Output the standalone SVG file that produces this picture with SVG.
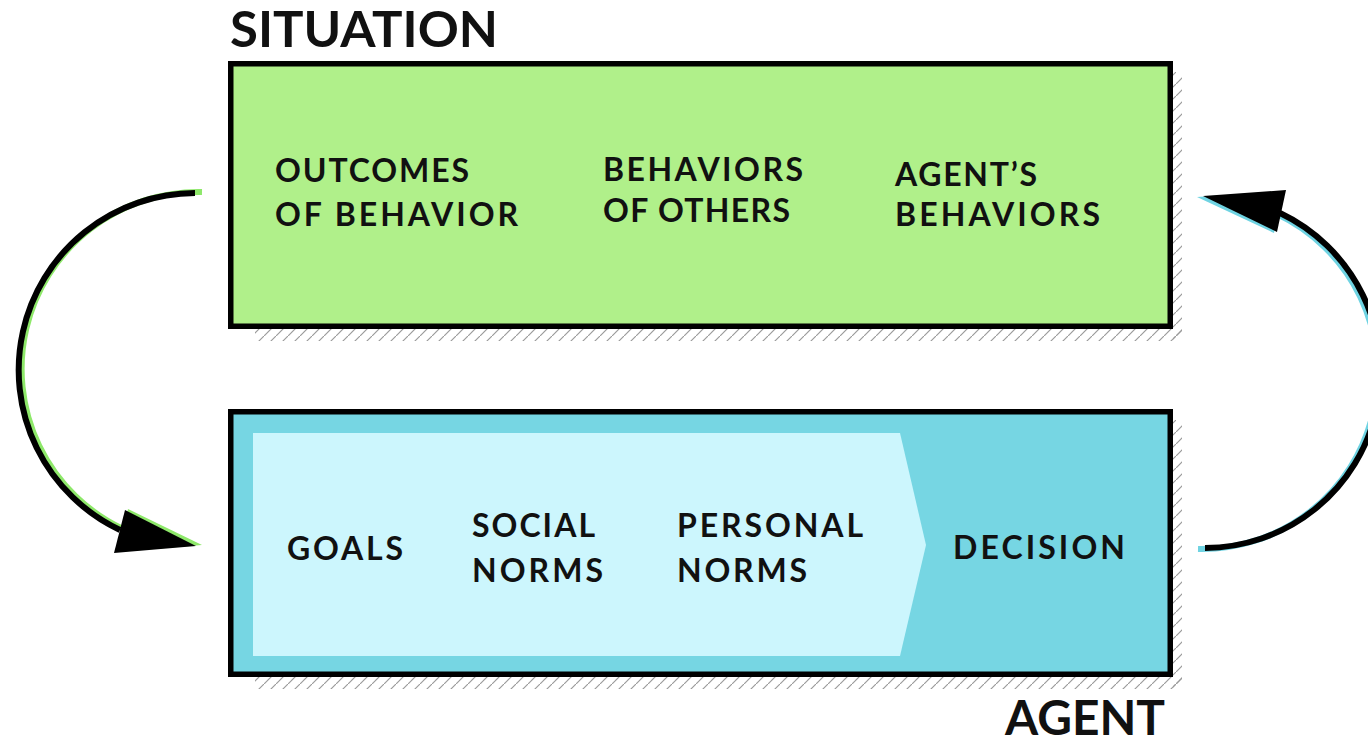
<svg xmlns="http://www.w3.org/2000/svg" width="1368" height="745" viewBox="0 0 1368 745">
<defs>
<pattern id="hatch" patternUnits="userSpaceOnUse" width="12" height="12">
<line x1="-1" y1="13" x2="13" y2="-1" stroke="#9a9a9a" stroke-width="1.2"/>
</pattern>
<style>
.t{font-family:Lato,"Liberation Sans",sans-serif;font-weight:700;fill:#111;}
.s{font-size:32px;}
.h{font-size:49px;}
.box{stroke:#000;stroke-width:5.5;}
.arc{fill:none;stroke:#000;stroke-width:6;}
</style>
</defs>
<rect width="1368" height="745" fill="#fff"/>

<g id="situation">
<rect x="255" y="329" width="927" height="12" fill="url(#hatch)"/>
<rect x="1173" y="72" width="9" height="269" fill="url(#hatch)"/>
<rect class="box" x="230.75" y="63.75" width="939.5" height="262.5" fill="#B0F08A"/>
<text class="t h" x="230" y="47" textLength="268" lengthAdjust="spacingAndGlyphs">SITUATION</text>
<text class="t s" x="275" y="182" textLength="194" lengthAdjust="spacing">OUTCOMES</text>
<text class="t s" x="275" y="226" textLength="243" lengthAdjust="spacing">OF BEHAVIOR</text>
<text class="t s" x="603" y="181" textLength="200" lengthAdjust="spacing">BEHAVIORS</text>
<text class="t s" x="603" y="222" textLength="187" lengthAdjust="spacing">OF OTHERS</text>
<text class="t s" x="895" y="186" textLength="142" lengthAdjust="spacing">AGENT’S</text>
<text class="t s" x="895" y="226" textLength="205" lengthAdjust="spacing">BEHAVIORS</text>
</g>

<g id="agent">
<rect x="255" y="677" width="927" height="12" fill="url(#hatch)"/>
<rect x="1173" y="420" width="9" height="269" fill="url(#hatch)"/>
<rect class="box" x="230.75" y="411.75" width="939.5" height="262.5" fill="#76D6E3"/>
<polygon points="253,433 900,433 926,545 900,656 253,656" fill="#CCF6FD"/>
<text class="t s" x="287" y="560" textLength="116" lengthAdjust="spacing">GOALS</text>
<text class="t s" x="472" y="537" textLength="123" lengthAdjust="spacing">SOCIAL</text>
<text class="t s" x="472" y="582" textLength="131" lengthAdjust="spacing">NORMS</text>
<text class="t s" x="677" y="537" textLength="186" lengthAdjust="spacing">PERSONAL</text>
<text class="t s" x="677" y="582" textLength="130" lengthAdjust="spacing">NORMS</text>
<text class="t s" x="953" y="559" textLength="172" lengthAdjust="spacing">DECISION</text>
<text class="t" style="font-size:48px" x="1005" y="735" textLength="160" lengthAdjust="spacingAndGlyphs">AGENT</text>
</g>

<g id="connectors">
<g id="arrow-left">
<g transform="translate(3,-1)">
<path class="arc" style="stroke:#8EE86A" d="M199,193 A177,177 0 0 0 120,530"/>
<polygon points="125,510 199,546 114,553" fill="#8EE86A"/>
</g>
<path class="arc" d="M195,193 A177,177 0 0 0 120,530"/>
<polygon points="125,510 196,546 114,553" fill="#000"/>
</g>
<g id="arrow-right">
<g transform="translate(-3,1)">
<path class="arc" style="stroke:#6FD3E2" d="M1201,548 A176,176 0 0 0 1280,213"/>
<polygon points="1200,196 1286,190 1277,232" fill="#6FD3E2"/>
</g>
<path class="arc" d="M1205,548 A176,176 0 0 0 1280,213"/>
<polygon points="1203,196 1286,190 1277,232" fill="#000"/>
</g>
</g>
</svg>
